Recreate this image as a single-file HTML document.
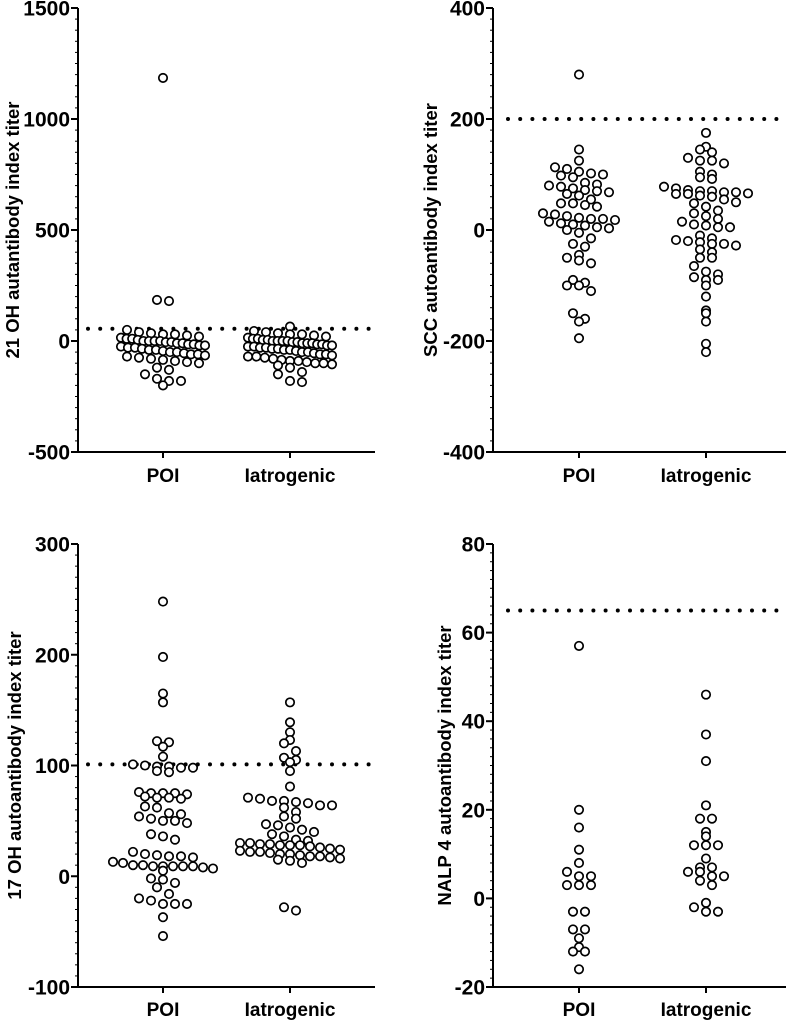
<!DOCTYPE html>
<html><head><meta charset="utf-8"><style>
html,body{margin:0;padding:0;background:#fff}
svg{display:block}
text{font-family:"Liberation Sans",sans-serif;font-weight:bold;fill:#000}
</style></head><body>
<svg id="fig" width="793" height="1022" viewBox="0 0 793 1022"></svg>
<script>
const categories = ["POI", "Iatrogenic"];
const titles = ["21 OH autantibody index titer","SCC autoantibody index titer","17 OH autoantibody index titer","NALP 4 autoantibody index titer"];
const cutoffs = [55, 200, 101, 65];
const tickLabels21 = [-500, 0, 500, 1000, 1500];
const tickLabelsScc = [-400, -200, 0, 200, 400];
const tickLabels17 = [-100, 0, 100, 200, 300];
const tickLabelsNalp = [-20, 0, 20, 40, 60, 80];
const oh21Poi = [1185,180,185,50,40,35,30,30,25,20,15,10,10,5,0,0,0,0,-5,-5,-10,-10,-15,-15,-20,-20,-25,-30,-30,-35,-40,-40,-45,-50,-50,-55,-60,-60,-65,-70,-75,-80,-85,-90,-95,-100,-120,-130,-150,-170,-180,-180,-200];
const oh21Iat = [65,45,40,35,30,30,25,20,15,10,10,5,5,0,0,0,0,-5,-5,-10,-10,-10,-15,-15,-20,-20,-25,-25,-30,-30,-35,-35,-40,-40,-45,-50,-50,-55,-60,-60,-65,-70,-70,-75,-80,-85,-90,-90,-95,-100,-100,-105,-110,-120,-140,-150,-180,-185];
const sccPoi = [280,145,125,113,110,105,102,100,98,95,85,82,80,78,75,72,70,68,65,62,55,48,48,45,42,30,28,25,22,20,20,18,15,12,10,8,5,3,0,-5,-15,-30,-25,-45,-50,-55,-60,-90,-95,-100,-100,-110,-150,-165,-160,-195];
const sccIat = [175,150,145,140,130,125,125,120,105,100,95,92,78,75,72,70,70,68,68,66,65,65,62,60,55,50,48,42,35,30,25,20,15,10,8,5,5,-10,-15,-18,-20,-22,-25,-25,-28,-35,-40,-50,-50,-65,-75,-80,-85,-90,-90,-100,-120,-150,-145,-165,-205,-220];
const oh17Poi = [248,198,165,157,122,117,121,108,101,100,99,99,98,98,95,94,76,75,75,75,74,72,71,71,70,63,62,57,56,54,52,50,48,50,38,36,33,22,20,19,18,18,17,13,12,10,10,9,9,9,9,9,8,7,5,-2,-3,-6,-10,-16,-20,-22,-25,-25,-25,-37,-54];
const oh17Iat = [157,139,130,123,120,113,107,105,103,95,81,71,70,68,68,67,66,64,64,62,58,54,52,47,46,44,42,40,38,36,33,32,30,30,29,29,28,28,28,27,26,25,24,23,22,22,21,20,20,19,18,18,17,16,15,14,12,-28,-31];
const nalpPoi = [57,20,16,11,8,6,5,5,3,3,3,-3,-3,-7,-7,-9,-11,-12,-12,-16];
const nalpIat = [46,37,31,21,18,18,15,14,12,12,12,9,7,7,6,6,5,5,4,3,-1,-2,-3,-3];

const NS="http://www.w3.org/2000/svg";
const svg=document.getElementById('fig');
function mk(tag,attrs,parent){const e=document.createElementNS(NS,tag);for(const k in attrs)e.setAttribute(k,attrs[k]);(parent||svg).appendChild(e);return e;}

const panels=[
 {ax:78,top:8,bot:452,xr:375,c:[163,290],ticks:tickLabels21,minor:50,data:[oh21Poi,oh21Iat],cut:cutoffs[0],title:titles[0],tx:19,ly:482,dl:[88,372],mh:42},
 {ax:493,top:8,bot:452,xr:786,c:[579,706],ticks:tickLabelsScc,minor:20,data:[sccPoi,sccIat],cut:cutoffs[1],title:titles[1],tx:437,ly:482,dl:[508,786],mh:50},
 {ax:78,top:544,bot:987,xr:375,c:[163,290],ticks:tickLabels17,minor:10,data:[oh17Poi,oh17Iat],cut:cutoffs[2],title:titles[2],tx:21,ly:1016,dl:[88,372],mh:50},
 {ax:493,top:544,bot:987,xr:786,c:[579,706],ticks:tickLabelsNalp,minor:2,data:[nalpPoi,nalpIat],cut:cutoffs[3],title:titles[3],tx:451,ly:1016,dl:[508,786],mh:50}
];
const names=['oh21','scc','oh17','nalp'];

panels.forEach((p,pi)=>{
 const g=mk('g',{});
 
 
 const lo=p.ticks[0],hi=p.ticks[p.ticks.length-1];
 const y=v=>p.bot-(v-lo)/(hi-lo)*(p.bot-p.top);
 const ya=mk('line',{x1:p.ax,y1:p.top,x2:p.ax,y2:p.bot+1,stroke:'#000','stroke-width':2},g);
 
 
 const xa=mk('line',{x1:p.ax-1,y1:p.bot,x2:p.xr,y2:p.bot,stroke:'#000','stroke-width':2},g);
 
 
 for(let v=lo;v<=hi+1e-9;v+=p.minor){mk('line',{x1:p.ax-3,x2:p.ax,y1:y(v),y2:y(v),stroke:'#000','stroke-width':1},g);}
 p.ticks.forEach(t=>{
  mk('line',{x1:p.ax-7,x2:p.ax,y1:y(t),y2:y(t),stroke:'#000','stroke-width':2},g);
  const tl=mk('text',{x:p.ax-8,y:y(t)+7.5,'text-anchor':'end','font-size':21},g);
  tl.textContent=t;
  
  
 });
 p.c.forEach((cx,ci)=>{
  mk('line',{x1:cx,x2:cx,y1:p.bot,y2:p.bot+6,stroke:'#000','stroke-width':2},g);
  const cl=mk('text',{x:cx,y:p.ly,'text-anchor':'middle','font-size':19},g);
  cl.textContent=categories[ci];
  
  
 });
 const tt=mk('text',{x:0,y:0,'text-anchor':'middle','font-size':18.5,transform:`translate(${p.tx},${(p.top+p.bot)/2}) rotate(-90)`},g);
 tt.textContent=p.title;
 
 
 const dl=mk('line',{x1:p.dl[0],x2:p.dl[1],y1:y(p.cut),y2:y(p.cut),stroke:'#000','stroke-width':4,'stroke-linecap':'round','stroke-dasharray':'0 12.2'},g);
 
 
 const BIN=9, SP=12, MAXHALF=p.mh;
 p.data.forEach((vals,si)=>{
  const bins={};
  vals.forEach(v=>{const py=y(v);const b=Math.round(py/BIN);(bins[b]=bins[b]||[]).push(py);});
  Object.keys(bins).forEach(b=>{
   const row=bins[b].sort((a,c)=>a-c);
   const n=row.length;
   let sp=SP;
   if((n-1)*sp/2>MAXHALF) sp=2*MAXHALF/(n-1);
   row.forEach((py,i)=>{
    const off=(i-(n-1)/2)*sp;
    const c=mk('circle',{cx:p.c[si]+off,cy:py,r:4.2,fill:'#fff',stroke:'#000','stroke-width':1.7},g);
    
    
   });
  });
 });
});
</script>
</body></html>
